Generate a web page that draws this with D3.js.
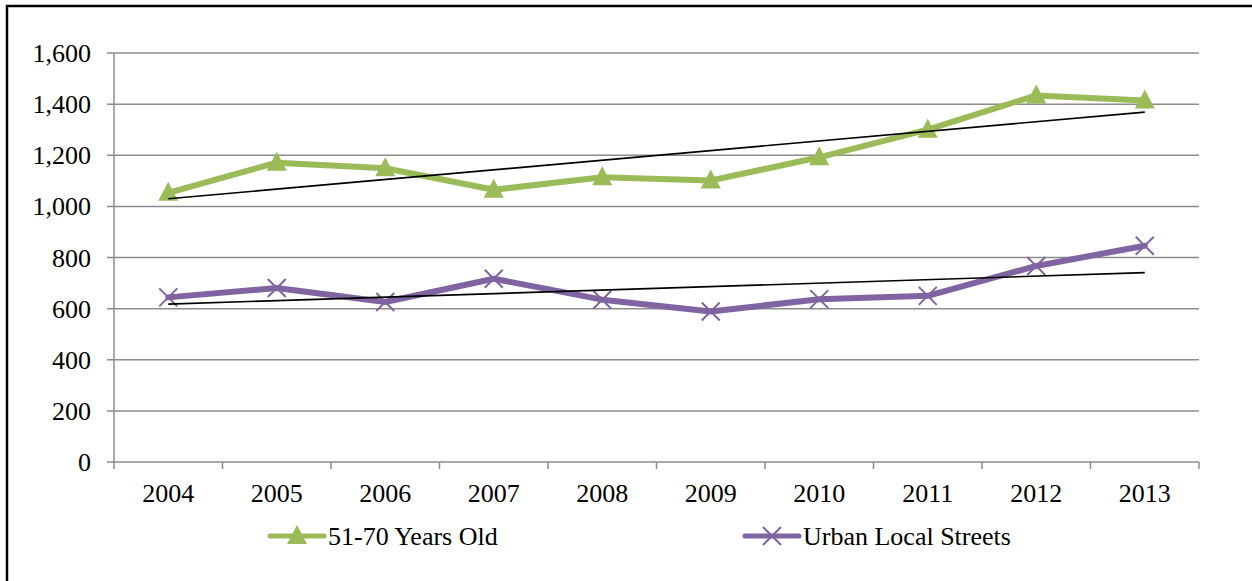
<!DOCTYPE html>
<html><head><meta charset="utf-8">
<script src="https://cdn.jsdelivr.net/npm/d3@7"></script>
<style>
html,body{margin:0;padding:0;background:#fff;}
svg{display:block;}
</style></head>
<body>
<script>
const years = ["2004","2005","2006","2007","2008","2009","2010","2011","2012","2013"];
const ageValues = [1053, 1171, 1149, 1065, 1114, 1101, 1192, 1300, 1434, 1414];
const urbanValues = [644, 681, 626, 717, 635, 589, 637, 650, 767, 846];
const yTicks = [0, 200, 400, 600, 800, 1000, 1200, 1400, 1600];
const seriesNames = ["51-70 Years Old", "Urban Local Streets"];
const seriesColors = ["#9BBB59", "#8064A2"];

(function () {
const W = 1252, H = 581;
const FONT = "'Liberation Serif', 'Times New Roman', 'DejaVu Serif', serif";
const FS = 26;
const svg = d3.select("body").append("svg").attr("width", W).attr("height", H)
  .attr("font-family", FONT);

// outer border (left & top visible)
svg.append("rect").attr("x", 7).attr("y", 6).attr("width", W + 10).attr("height", H + 10)
  .attr("fill", "none").attr("stroke", "#000").attr("stroke-width", 2.5);

const pLeft = 114, pRight = 1199, pTop = 53, pBottom = 462;
const x = d3.scaleBand().domain(years).range([pLeft, pRight]).padding(0);
const y = d3.scaleLinear().domain([0, 1600]).range([pBottom, pTop]);
const fmt = d3.format(",");

// gridlines
svg.append("g").selectAll("line").data(yTicks).join("line")
  .attr("x1", pLeft - 7).attr("x2", pRight)
  .attr("y1", d => y(d)).attr("y2", d => y(d))
  .attr("stroke", "#8c8c8c").attr("stroke-width", 1.5);

// y axis line
svg.append("line").attr("x1", pLeft).attr("x2", pLeft).attr("y1", pTop).attr("y2", pBottom)
  .attr("stroke", "#8c8c8c").attr("stroke-width", 1.5);

// y labels
svg.append("g").selectAll("text").data(yTicks).join("text")
  .attr("x", 91).attr("y", d => y(d)).attr("dy", "0.35em")
  .attr("text-anchor", "end").attr("font-size", FS).attr("fill", "#000").text(d => fmt(d));

// x axis ticks at band boundaries
const bounds = years.map(d => x(d)).concat([x(years[years.length - 1]) + x.bandwidth()]);
svg.append("g").selectAll("line").data(bounds).join("line")
  .attr("x1", d => d).attr("x2", d => d).attr("y1", pBottom).attr("y2", pBottom + 7)
  .attr("stroke", "#8c8c8c").attr("stroke-width", 1.5);

svg.append("g").selectAll("text").data(years).join("text")
  .attr("x", d => x(d) + x.bandwidth() / 2).attr("y", 502)
  .attr("text-anchor", "middle").attr("font-size", FS).attr("fill", "#000").text(d => d);

const cx = d => x(d) + x.bandwidth() / 2;
const line = d3.line().x(d => cx(d.year)).y(d => y(d.v));

function regress(vals) {
  const n = vals.length, xs = d3.range(n);
  const mx = d3.mean(xs), my = d3.mean(vals);
  const sxy = d3.sum(xs, i => (i - mx) * (vals[i] - my));
  const sxx = d3.sum(xs, i => (i - mx) * (i - mx));
  const b = sxy / sxx, a = my - b * mx;
  return [a, a + b * (n - 1)];
}

const triPath = "M0,-11 L10,8 L-10,8 Z";
const crossPath = "M-9,-9 L9,9 M-9,9 L9,-9";

[ageValues, urbanValues].forEach((vals, si) => {
  const data = vals.map((v, i) => ({year: years[i], v}));
  svg.append("path").datum(data).attr("d", line)
    .attr("fill", "none").attr("stroke", seriesColors[si]).attr("stroke-width", 6)
    .attr("stroke-linejoin", "round").attr("stroke-linecap", "round");
  const g = svg.append("g").selectAll("path").data(data).join("path")
    .attr("transform", d => `translate(${cx(d.year)},${y(d.v)})`);
  if (si === 0) g.attr("d", triPath).attr("fill", seriesColors[0]);
  else g.attr("d", crossPath).attr("fill", "none").attr("stroke", seriesColors[1]).attr("stroke-width", 2);
});

// trend lines
[ageValues, urbanValues].forEach(vals => {
  const [a, b] = regress(vals);
  svg.append("line")
    .attr("x1", cx(years[0])).attr("y1", y(a))
    .attr("x2", cx(years[years.length - 1])).attr("y2", y(b))
    .attr("stroke", "#000").attr("stroke-width", 1.6);
});

// legend
const legendX = [270, 745];
const lg = svg.append("g");
seriesNames.forEach((name, i) => {
  const lx = legendX[i], ly = 536;
  lg.append("line").attr("x1", lx).attr("x2", lx + 54).attr("y1", ly).attr("y2", ly)
    .attr("stroke", seriesColors[i]).attr("stroke-width", 5).attr("stroke-linecap", "round");
  const m = lg.append("path").attr("transform", `translate(${lx + 27},${ly})`);
  if (i === 0) m.attr("d", triPath).attr("fill", seriesColors[0]);
  else m.attr("d", crossPath).attr("fill", "none").attr("stroke", seriesColors[1]).attr("stroke-width", 2);
  lg.append("text").attr("x", lx + 58).attr("y", ly).attr("dy", "0.35em")
    .attr("font-size", FS).attr("fill", "#000").text(name);
});
})();
</script>
</body></html>
